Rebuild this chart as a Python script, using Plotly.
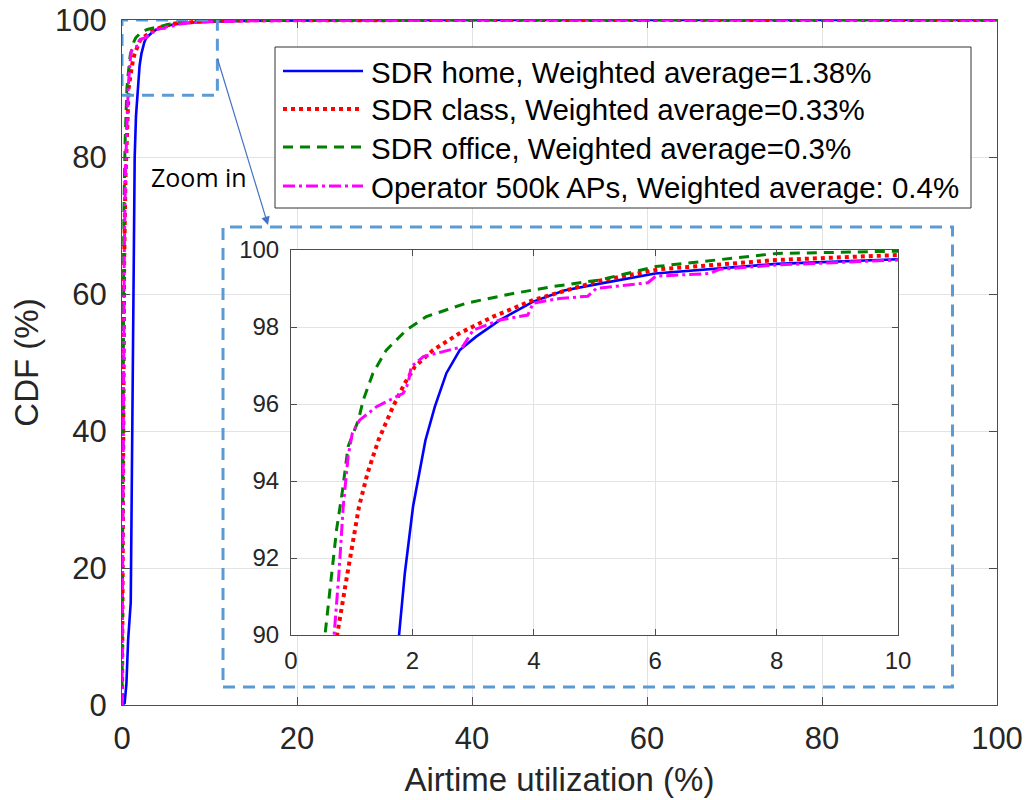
import plotly.graph_objects as go

# ---- CDF data: airtime utilization (%) vs cumulative share (%) ----
util_home = [0, 0.3, 0.5, 0.7, 1.0, 1.1, 1.2, 1.3, 1.45, 1.6, 1.78, 1.875, 2.01, 2.215,
             2.37, 2.56, 2.78, 3.05, 3.44, 3.99, 4.5, 5.0, 6.0, 8.0, 10.0, 15, 25, 40, 100]
cdf_home = [0, 0.3, 3, 9.5, 15, 30, 52, 70, 80, 86, 90, 91.6, 93.33, 95.06,
            95.93, 96.8, 97.4, 97.75, 98.18, 98.66, 98.95, 99.1, 99.39, 99.64, 99.76, 99.9, 99.97, 100, 100]

util_class = [0, 0.03, 0.08, 0.15, 0.25, 0.4, 0.58, 0.76, 0.93, 1.12, 1.26, 1.44, 1.68, 1.875,
              2.04, 2.34, 2.78, 3.33, 3.99, 4.64, 5.08, 6.07, 8.0, 10.0, 15, 25, 40, 100]
cdf_class = [0, 10, 30, 50, 65, 77, 85, 90, 91.6, 93.33, 94.2, 95.06, 95.93, 96.54,
             96.97, 97.4, 97.84, 98.27, 98.7, 99.0, 99.2, 99.5, 99.74, 99.87, 99.95, 99.99, 100, 100]

util_office = [0, 0.02, 0.06, 0.12, 0.22, 0.35, 0.46, 0.56, 0.67, 0.75, 0.85, 0.94, 1.11, 1.19,
               1.35, 1.57, 1.9, 2.23, 2.89, 3.66, 4.31, 5.08, 6.01, 8.0, 10.0, 15, 25, 100]
cdf_office = [0, 10, 30, 55, 72, 82, 87, 90, 91.6, 92.73, 93.77, 94.89, 95.58, 96.1,
              96.8, 97.4, 97.92, 98.27, 98.62, 98.87, 99.05, 99.22, 99.57, 99.91, 99.97, 99.99, 100, 100]

util_operator = [0, 0.03, 0.08, 0.15, 0.25, 0.4, 0.55, 0.71, 0.79, 0.86, 0.94, 1.01, 1.13, 1.41,
                 1.85, 1.93, 1.98, 2.18, 2.83, 3.0, 3.44, 3.9, 3.99, 4.42, 4.89, 5.03, 5.88, 6.01,
                 6.89, 7.06, 8.0, 10.0, 15, 25, 40, 100]
cdf_operator = [0, 10, 30, 50, 65, 78, 86, 90, 91.6, 93.33, 94.63, 95.24, 95.58, 95.93,
                96.28, 96.54, 96.97, 97.23, 97.49, 97.92, 98.18, 98.31, 98.62, 98.74, 98.8, 99.0, 99.15, 99.32,
                99.39, 99.5, 99.61, 99.74, 99.9, 99.98, 100, 100]

series_labels = [
    "SDR home, Weighted average=1.38%",
    "SDR class, Weighted average=0.33%",
    "SDR office, Weighted average=0.3%",
    "Operator 500k APs, Weighted average: 0.4%",
]

main_ticks = [0, 20, 40, 60, 80, 100]
inset_xticks = [0, 2, 4, 6, 8, 10]
inset_yticks = [90, 92, 94, 96, 98, 100]

# ---- figure geometry (pixels) ----
W, H = 1026, 800
ML, MR, MT, MB = 122, 29, 20, 95
PW, PH = W - ML - MR, H - MT - MB


def fx(p):
    """pixel column -> paper x"""
    return (p - ML) / PW


def fy(p):
    """pixel row -> paper y"""
    return (H - MB - p) / PH


FONT = "Liberation Sans, Arial, sans-serif"
TXT = "#262626"

styles = [
    dict(color="#0000FF", width=2.6, dash="solid"),
    dict(color="#FF0000", width=4, dash="dot"),
    dict(color="#008000", width=3, dash="10px,7px"),
    dict(color="#FF00FF", width=3, dash="12px,4px,3px,4px"),
]
series = [(util_home, cdf_home), (util_class, cdf_class),
          (util_office, cdf_office), (util_operator, cdf_operator)]

fig = go.Figure()
for (xs, ys), st, name in zip(series, styles, series_labels):
    fig.add_trace(go.Scatter(x=xs, y=ys, mode="lines", line=st, name=name,
                             showlegend=False, xaxis="x", yaxis="y"))
for (xs, ys), st, name in zip(series, styles, series_labels):
    fig.add_trace(go.Scatter(x=xs, y=ys, mode="lines", line=st, name=name,
                             showlegend=False, xaxis="x2", yaxis="y2"))

axis_common = dict(showline=True, linecolor="#4d4d4d", linewidth=1, mirror="ticks",
                   ticks="inside", tickcolor="#4d4d4d", showgrid=True, gridcolor="#e3e3e3",
                   zeroline=False, automargin=False)

fig.update_layout(
    width=W, height=H, autosize=False,
    margin=dict(l=ML, r=MR, t=MT, b=MB, pad=0, autoexpand=False),
    paper_bgcolor="white", plot_bgcolor="white",
    font=dict(family=FONT, color=TXT),
    xaxis=dict(domain=[0, 1], range=[0, 100], tickvals=main_ticks, ticklen=8,
               tickfont=dict(size=31, color=TXT), ticklabelstandoff=6,
               title=dict(text="Airtime utilization (%)", font=dict(size=33, color=TXT), standoff=12),
               **axis_common),
    yaxis=dict(domain=[0, 1], range=[0, 100], tickvals=main_ticks, ticklen=8,
               tickfont=dict(size=31, color=TXT), ticklabelstandoff=8,
               title=dict(text="CDF (%)", font=dict(size=33, color=TXT), standoff=6),
               **axis_common),
    xaxis2=dict(domain=[fx(291), fx(898)], anchor="y2", range=[0, 10], tickvals=inset_xticks,
                ticklen=6, tickfont=dict(size=24, color=TXT), ticklabelstandoff=4, **axis_common),
    yaxis2=dict(domain=[fy(635), fy(250)], anchor="x2", range=[90, 100], tickvals=inset_yticks,
                ticklen=6, tickfont=dict(size=24, color=TXT), ticklabelstandoff=6, **axis_common),
)

zoom_blue = "#5B9BD5"
shapes = [
    # zoomed region on the main axes
    dict(type="rect", xref="x", yref="y", x0=0, x1=10.9, y0=89, y1=100,
         line=dict(color=zoom_blue, width=3, dash="12px,8px"), layer="above"),
    # frame around the inset
    dict(type="rect", xref="paper", yref="paper", x0=fx(223), x1=fx(952.5), y0=fy(687), y1=fy(227),
         line=dict(color=zoom_blue, width=3, dash="12px,8px"), layer="above"),
    # legend box
    dict(type="rect", xref="paper", yref="paper", x0=fx(275), x1=fx(971), y0=fy(208), y1=fy(47),
         line=dict(color="#333333", width=1), fillcolor="white", layer="above"),
]
row_y = [72, 110, 148, 187]
annotations = []
for st, name, ry in zip(styles, series_labels, row_y):
    shapes.append(dict(type="line", xref="paper", yref="paper", x0=fx(283), x1=fx(363),
                       y0=fy(ry - 1), y1=fy(ry - 1), line=st, layer="above"))
    annotations.append(dict(xref="paper", yref="paper", x=fx(369), y=fy(ry), text=name,
                            showarrow=False, xanchor="left", yanchor="middle",
                            font=dict(size=29.5, color="black", family=FONT)))

annotations.append(dict(xref="paper", yref="paper", x=fx(199), y=fy(177), text="Zoom in",
                        showarrow=False, xanchor="center", yanchor="middle",
                        font=dict(size=25, color="black", family="Open Sans, sans-serif")))
annotations.append(dict(xref="paper", yref="paper", x=fx(268), y=fy(225), text="",
                        showarrow=True, ax=217 - 268, ay=57 - 225, arrowhead=2, arrowsize=1.4,
                        arrowwidth=1.2, arrowcolor="#4472C4", standoff=0))

fig.update_layout(shapes=shapes, annotations=annotations)

# page body without default margin so the figure sits at the window origin
fig.write_html("out.html", post_script="document.body.style.margin='0';")
